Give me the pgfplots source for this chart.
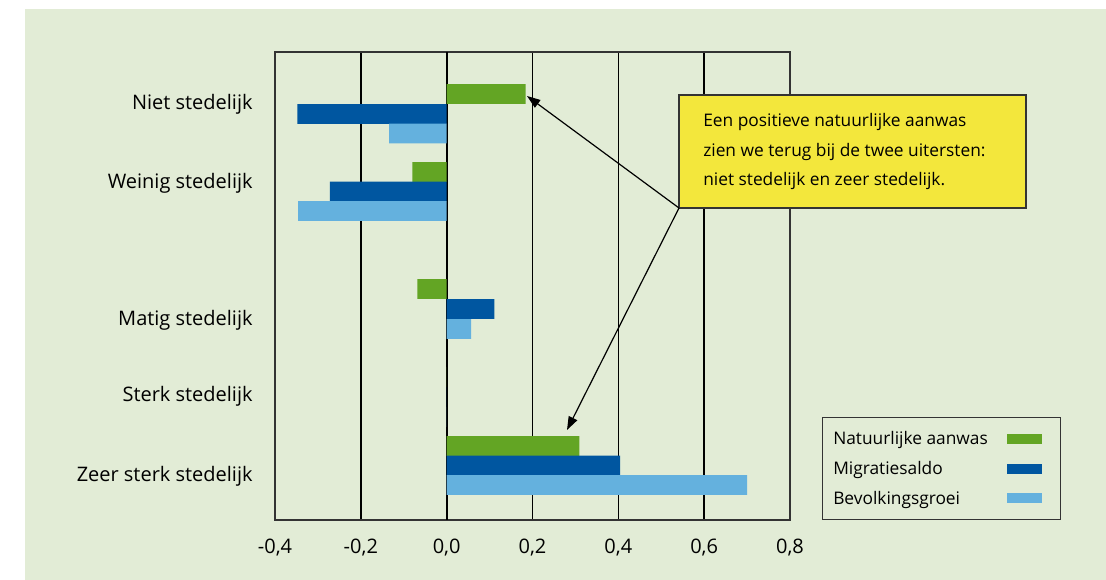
\documentclass[border=0pt]{standalone}
\usepackage{pgfplots}
\pgfplotsset{compat=1.18}
\usepackage{fontspec}
\setmainfont{Open Sans}
\usetikzlibrary{arrows.meta}

\definecolor{bg}{RGB}{226,236,214}
\definecolor{natgreen}{RGB}{99,165,36}
\definecolor{migblue}{RGB}{0,86,160}
\definecolor{bevblue}{RGB}{100,177,222}
\definecolor{noteyellow}{RGB}{243,231,60}

\begin{document}
\begin{tikzpicture}[x=0.75pt,y=-0.75pt]
  % achtergrond
  \fill[white] (0,0) rectangle (1106,580);
  \fill[bg] (25,9) rectangle (1106,580);

  \begin{axis}[
      at={(206.25pt,-390pt)}, anchor=south west,
      scale only axis,
      width=386.25pt, height=351pt,
      xmin=-0.4, xmax=0.8,
      ymin=52, ymax=520, y dir=reverse,
      xtick={-0.4,-0.2,0,0.2,0.4,0.6,0.8},
      xticklabels={{-0,4},{-0,2},{0,0},{0,2},{0,4},{0,6},{0,8}},
      ytick={104,183,320,396,476},
      yticklabels={Niet stedelijk, Weinig stedelijk, Matig stedelijk, Sterk stedelijk, Zeer sterk stedelijk},
      major tick length=0pt,
      xmajorgrids,
      grid style={black, line width=1pt},
      extra x ticks={0},
      extra x tick labels={},
      extra x tick style={grid style={black, line width=1.7pt}},
      axis line style={black!80, line width=1pt},
      ticklabel style={font=\fontsize{15}{18}\selectfont},
      xticklabel style={yshift=-11pt},
      yticklabel style={xshift=-13.25pt},
      legend style={at={(1.062,0)}, anchor=south west,
        draw=black!80, line width=1pt, fill=none,
        font=\fontsize{13}{15}\selectfont,
        inner xsep=6pt, inner ysep=8pt,
        row sep=7pt, column sep=12.5pt},
      legend cell align=left,
      legend plot pos=right,
      legend image code/.code={%
        \path[#1,draw=none] (0pt,-3.75pt) rectangle (26.25pt,3.75pt);
        \path[draw=none,fill=none] (26.25pt,0pt) -- (34pt,0pt);},
    ]

    \addplot[xbar, bar shift=0pt, bar width=19.6, fill=natgreen, draw=none]
      coordinates {(0.184,94) (-0.080,172) (-0.068,289) (0,377) (0.309,446)};
    \addplot[xbar, bar shift=0pt, bar width=19.6, fill=migblue, draw=none]
      coordinates {(-0.348,114) (-0.272,191.5) (0.111,309) (0,397) (0.404,465.5)};
    \addplot[xbar, bar shift=0pt, bar width=19.6, fill=bevblue, draw=none]
      coordinates {(-0.134,133.5) (-0.346,211) (0.057,329) (0,417) (0.700,485)};

    \legend{Natuurlijke aanwas, Migratiesaldo, Bevolkingsgroei}
  \end{axis}

  % toelichting
  \draw[fill=noteyellow, draw=black!80, line width=1pt] (679,95) rectangle (1026,208);
  \begin{scope}[font=\fontsize{13}{15}\selectfont]
    \node[anchor=base west, inner sep=0pt] at (703,127) {Een positieve natuurlijke aanwas};
    \node[anchor=base west, inner sep=0pt] at (703,157) {zien we terug bij de twee uitersten:};
    \node[anchor=base west, inner sep=0pt] at (703,186) {niet stedelijk en zeer stedelijk.};
  \end{scope}
  \draw[line width=0.9pt, -{Triangle[length=10pt,width=7pt]}] (679,208) -- (527,96);
  \draw[line width=0.9pt, -{Triangle[length=10pt,width=7pt]}] (679,208) -- (567,430);
\end{tikzpicture}
\end{document}
